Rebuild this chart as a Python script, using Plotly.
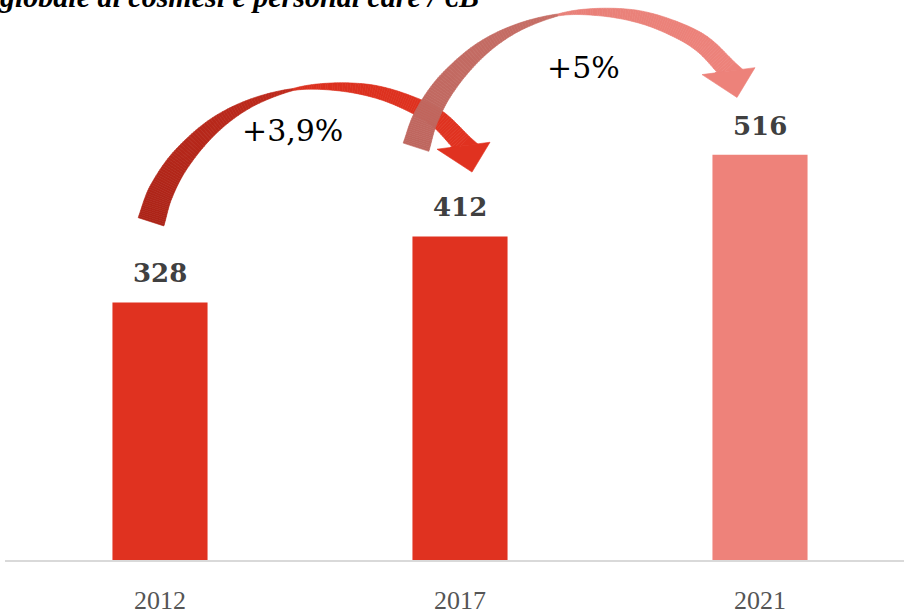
import numpy as np
import plotly.graph_objects as go

# ---------------- data ----------------
years = ["2012", "2017", "2021"]
values = [328, 412, 516]
bar_colors = ["#E03220", "#E03220", "#EE827A"]
growth_labels = ["+3,9%", "+5%"]
title_text = "globale di cosmesi e personal care / €B"

# ---------------- layout geometry ----------------
W, H = 904, 615
ML, MR, MT, MB = 5, 0, 0, 52
PW = W - ML - MR
PH = H - MT - MB
PX_PER_CAT = 300.0
X0 = -155.0 / PX_PER_CAT
X1 = X0 + PW / PX_PER_CAT
YMAX = 713.0


def to_data(px, py):
    x = X0 + (px - ML) / PW * (X1 - X0)
    y = (MT + PH - py) / PH * YMAX
    return x, y


# ---------------- curved arrow decoration ----------------
CL = np.array([(0, 0), (10, -30), (30, -63), (62, -96), (99, -119), (142, -133),
               (179, -136), (219, -132), (254, -121), (286, -104), (313, -77)], float)
CW = np.array([27, 25, 21, 15, 8, 2, 7, 12, 15, 18, 20], float)
THIN = 5
HEAD_WING_IN = (299, -75)
HEAD_WING_OUT = (327, -78)
HEAD = [(286, -73), (321, -50), (339, -80)]


def catmull(P, m=16):
    P = np.asarray(P, float)
    ext = np.vstack([2 * P[0] - P[1], P, 2 * P[-1] - P[-2]])
    pts, par = [], []
    for i in range(1, len(ext) - 2):
        p0, p1, p2, p3 = ext[i - 1], ext[i], ext[i + 1], ext[i + 2]
        for t in np.linspace(0, 1, m, endpoint=False):
            t2, t3 = t * t, t * t * t
            pt = 0.5 * ((2 * p1) + (-p0 + p2) * t + (2 * p0 - 5 * p1 + 4 * p2 - p3) * t2
                        + (-p0 + 3 * p1 - 3 * p2 + p3) * t3)
            pts.append(pt)
            par.append(i - 1 + t)
    pts.append(P[-1])
    par.append(len(P) - 1)
    return np.array(pts), np.array(par)


def mix(c0, c1, f):
    return "rgb(%d,%d,%d)" % tuple(round(a + (b - a) * f) for a, b in zip(c0, c1))


def path_of(points):
    s = []
    for k, (px, py) in enumerate(points):
        x, y = to_data(px, py)
        s.append(("M" if k == 0 else "L") + "%.5f,%.4f" % (x, y))
    return " ".join(s) + " Z"


def arrow_shapes(bx, by, back0, back1, front0, front1):
    pts, par = catmull(CL)
    widths = np.interp(par, np.arange(len(CW)), CW)
    d = np.gradient(pts, axis=0)
    d /= np.linalg.norm(d, axis=1)[:, None]
    nrm = np.stack([-d[:, 1], d[:, 0]], axis=1)
    L = pts + nrm * widths[:, None] / 2
    R = pts - nrm * widths[:, None] / 2
    if L[-1][1] < R[-1][1]:
        L[-1], R[-1] = HEAD_WING_OUT, HEAD_WING_IN
    else:
        L[-1], R[-1] = HEAD_WING_IN, HEAD_WING_OUT
    off = np.array([bx, by])
    shapes = []
    n = len(pts)
    for k in range(n - 1):
        pm = 0.5 * (par[k] + par[k + 1])
        if pm < THIN:
            col = mix(back0, back1, pm / THIN)
        else:
            col = mix(front0, front1, (pm - THIN) / (len(CL) - 1 - THIN))
        quad = [L[k] + off, L[k + 1] + off, R[k + 1] + off, R[k] + off]
        shapes.append(dict(type="path", xref="x", yref="y", path=path_of(quad),
                           fillcolor=col, line=dict(color=col, width=0.6), layer="above"))
    head = [np.array(p) + off for p in HEAD]
    col = mix(front0, front1, 1)
    shapes.append(dict(type="path", xref="x", yref="y", path=path_of(head),
                       fillcolor=col, line=dict(color=col, width=0.6), layer="above"))
    return shapes


shapes = []
shapes += arrow_shapes(151, 223, (172, 36, 24), (190, 42, 28), (218, 48, 30), (224, 50, 32))
shapes += arrow_shapes(416, 148, (190, 102, 94), (198, 110, 102), (232, 128, 120), (237, 130, 122))

# ---------------- figure ----------------
xs = list(range(len(years)))
fig = go.Figure()
fig.add_trace(go.Bar(x=xs, y=values, width=0.317, marker=dict(color=bar_colors, line=dict(width=0)),
                     hoverinfo="skip"))

annotations = []
for i, v in zip(xs, values):
    annotations.append(dict(x=i, y=v, xref="x", yref="y", text=str(v), showarrow=False,
                            yanchor="bottom", yshift=12,
                            font=dict(family="DejaVu Serif", size=26, color="#404040", weight="bold")))

pct_pos = [(292, 131), (583, 68)]
for lab, (px, py) in zip(growth_labels, pct_pos):
    x, y = to_data(px, py)
    annotations.append(dict(x=x, y=y, xref="x", yref="y", text=lab, showarrow=False,
                            xanchor="center", yanchor="middle",
                            font=dict(family="DejaVu Serif", size=30, color="#000000")))

annotations.append(dict(x=(-3 - ML) / PW, y=(PH - 15.5) / PH, xref="paper", yref="paper",
                        text=title_text, showarrow=False, xanchor="left", yanchor="bottom",
                        font=dict(family="Liberation Serif", size=30, color="#000000",
                                  weight="bold", style="italic")))

fig.update_layout(
    width=W, height=H,
    margin=dict(l=ML, r=MR, t=MT, b=MB),
    paper_bgcolor="white", plot_bgcolor="white",
    showlegend=False,
    shapes=shapes,
    annotations=annotations,
    xaxis=dict(range=[X0, X1], tickvals=xs, ticktext=years, showgrid=False, zeroline=False,
               showline=True, linecolor="#D9D9D9", linewidth=2, ticks="",
               ticklabelstandoff=16,
               tickfont=dict(family="Liberation Serif", size=26, color="#555555")),
    yaxis=dict(range=[0, YMAX], visible=False, showgrid=False, zeroline=False),
)

fig.write_html("out.html", config={"displayModeBar": False},
               post_script="document.body.style.margin='0';")
